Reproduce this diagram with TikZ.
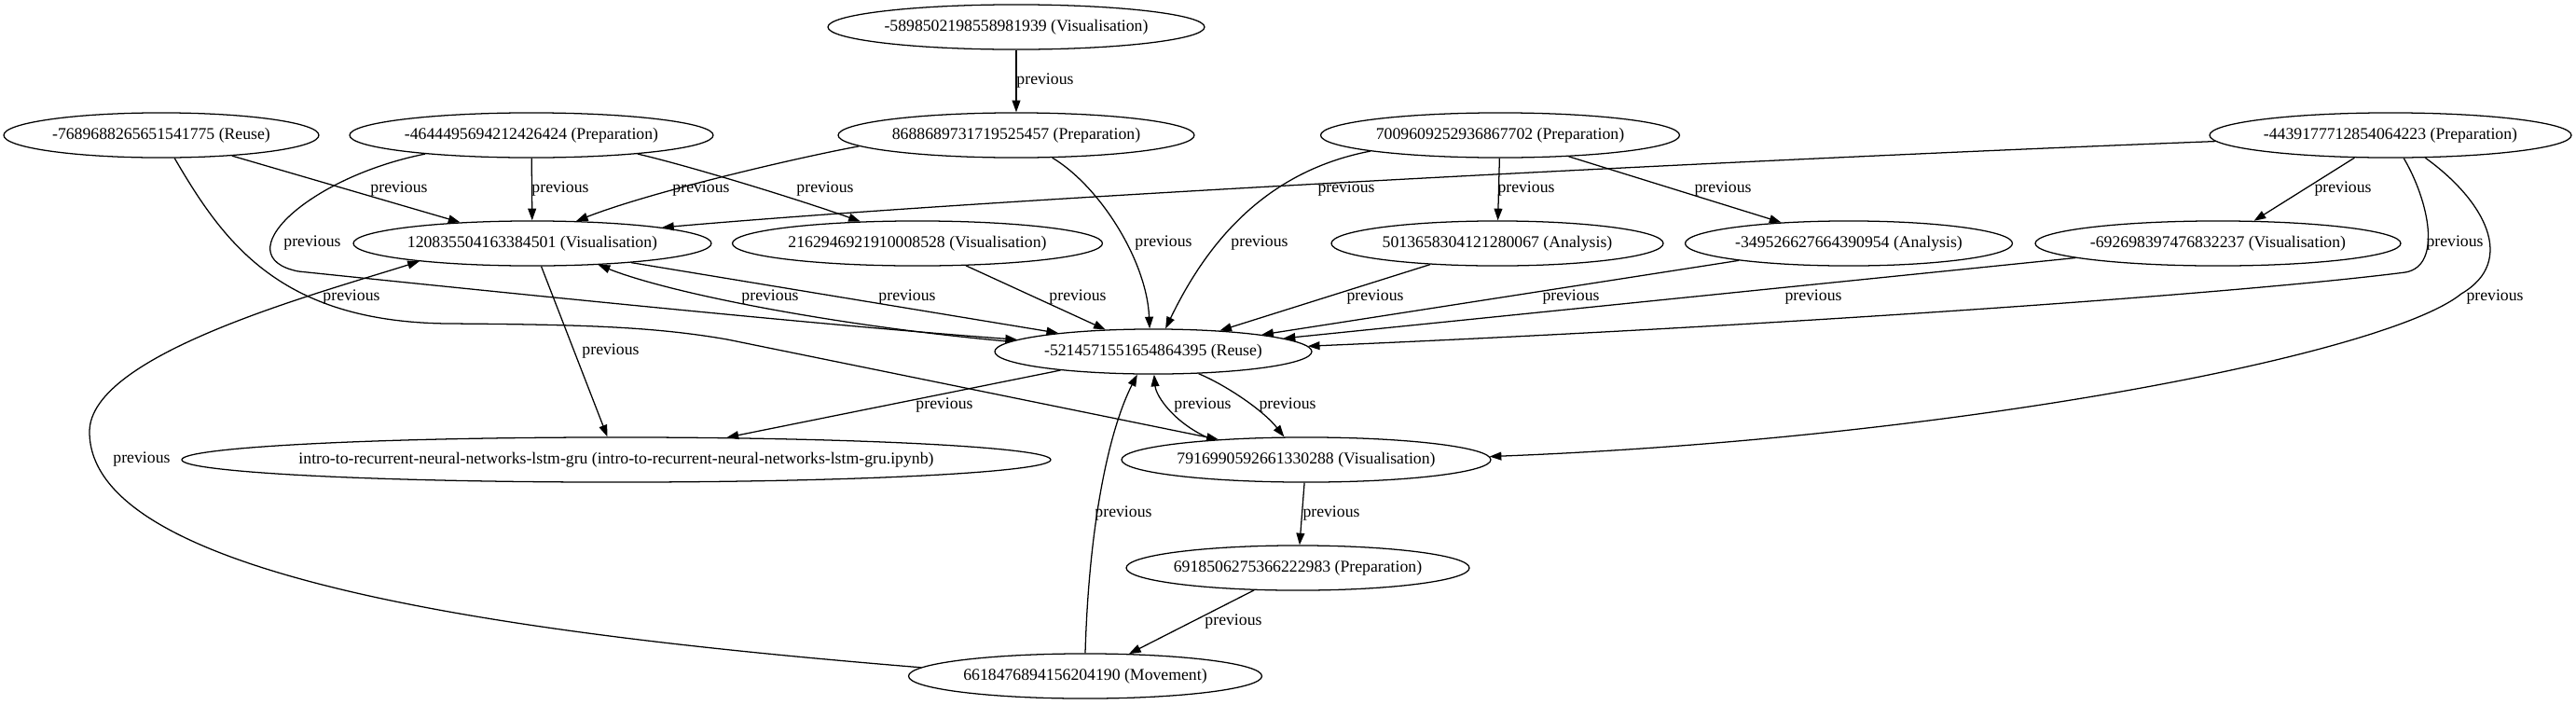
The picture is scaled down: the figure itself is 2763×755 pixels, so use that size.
\documentclass[tikz,border=0pt]{standalone}
\usepackage{fontspec}
\setmainfont{Liberation Serif}
\usetikzlibrary{arrows.meta,shapes.geometric}
\newcommand\zb[1]{\makebox[0pt]{#1}}
\begin{document}
\begin{tikzpicture}[x=0.79pt,y=-0.79pt,
  nd/.style={draw, ellipse, line width=1pt, inner sep=0pt, minimum height=38pt, minimum width=#1*0.79pt, font=\fontsize{14}{16}\selectfont},
  lb/.style={inner sep=0pt, font=\fontsize{14}{16}\selectfont},
  edge/.style={line width=1pt, -{Triangle[length=10pt,width=7pt]}}]
\useasboundingbox (0,0) rectangle (2763,755);
% nodes
\node[nd=404] (A) at (1090,29) {\zb{-5898502198558981939 (Visualisation)}};
\node[nd=338] (B) at (173,145) {\zb{-7689688265651541775 (Reuse)}};
\node[nd=390] (C) at (570,145) {\zb{-4644495694212426424 (Preparation)}};
\node[nd=382] (D) at (1090,145) {\zb{8688689731719525457 (Preparation)}};
\node[nd=385] (G) at (1609,145) {\zb{7009609252936867702 (Preparation)}};
\node[nd=388] (H) at (2564,145) {\zb{-4439177712854064223 (Preparation)}};
\node[nd=384] (E) at (571,261) {\zb{120835504163384501 (Visualisation)}};
\node[nd=397] (F) at (984,261) {\zb{2162946921910008528 (Visualisation)}};
\node[nd=356] (I) at (1606,261) {\zb{5013658304121280067 (Analysis)}};
\node[nd=351] (J) at (1983,261) {\zb{-349526627664390954 (Analysis)}};
\node[nd=392] (K) at (2379,261) {\zb{-692698397476832237 (Visualisation)}};
\node[nd=340] (L) at (1237,377) {\zb{-5214571551654864395 (Reuse)}};
\node[nd=932] (M) at (661,493) {\zb{intro-to-recurrent-neural-networks-lstm-gru (intro-to-recurrent-neural-networks-lstm-gru.ipynb)}};
\node[nd=396] (N) at (1401,493) {\zb{7916990592661330288 (Visualisation)}};
\node[nd=368] (O) at (1392,609) {\zb{6918506275366222983 (Preparation)}};
\node[nd=379] (P) at (1164,725) {\zb{6618476894156204190 (Movement)}};
% edges
\draw[edge] (A) -- (D);
\draw[edge] (B) -- (E);
\draw[edge] (C) -- (E);
\draw[edge] (D.184.5) .. controls (860,168) and (700,205) .. (E.27.6);
\draw[edge] (C.-10.7) .. controls (740,178) and (860,215) .. (F.159.1);
\draw[edge] (H.182.1) .. controls (1900,170) and (1100,210) .. (E.7.5);
\draw[edge] (G) -- (I);
\draw[edge] (G) -- (J);
\draw[edge] (H) -- (K);
\draw[edge] (C.190) .. controls (330,190) and (240,275) .. (320,291) .. controls (600,320) and (900,350) .. (L.175.6);
\draw[edge] (D.328) .. controls (1180,200) and (1230,280) .. (L.99);
\draw[edge] (G.187) .. controls (1350,185) and (1290,270) .. (L.62);
\draw[edge] (H.300) .. controls (2605,215) and (2620,285) .. (2580,292) .. controls (2400,315) and (1900,350) .. (L.2.05);
\draw[edge] (B.300) .. controls (240,260) and (300,345) .. (480,347) .. controls (620,348) and (700,350) .. (780,364) -- (N.167.2);
\draw[edge] (L.176.2) .. controls (900,350) and (720,315) .. (E.342);
\draw[edge] (E.349.4) -- (L.169.1);
\draw[edge] (F) -- (L);
\draw[edge] (I) -- (L);
\draw[edge] (J) -- (L);
\draw[edge] (K) -- (L);
\draw[edge] (H.327.7) .. controls (2665,215) and (2700,280) .. (2640,315) .. controls (2560,380) and (2100,470) .. (N.1.2);
\draw[edge] (E) -- (M);
\draw[edge] (L) -- (M);
\draw[edge] (N.168) .. controls (1260,455) and (1240,425) .. (L.272);
\draw[edge] (L.334.4) .. controls (1315,413) and (1355,440) .. (N.134);
\draw[edge] (N) -- (O);
\draw[edge] (P.90) .. controls (1168,560) and (1190,460) .. (L.235);
\draw[edge] (O) -- (P);
\draw[edge] (P.177.9) .. controls (550,680) and (96,620) .. (96,463) .. controls (96,380) and (340,315) .. (E.189.1);
% labels
\node[lb] (l1) at (1121,87) {previous};
\node[lb] (l2) at (428,203) {previous};
\node[lb] (l3) at (601,203) {previous};
\node[lb] (l4) at (752,203) {previous};
\node[lb] (l5) at (885,203) {previous};
\node[lb] (l6) at (1444,203) {previous};
\node[lb] (l7) at (1637,203) {previous};
\node[lb] (l8) at (1848,203) {previous};
\node[lb] (l9) at (2513,203) {previous};
\node[lb] (l10) at (335,261) {previous};
\node[lb] (l11) at (1248,261) {previous};
\node[lb] (l12) at (1351,261) {previous};
\node[lb] (l13) at (2633,261) {previous};
\node[lb] (l14) at (377,319) {previous};
\node[lb] (l15) at (826,319) {previous};
\node[lb] (l16) at (973,319) {previous};
\node[lb] (l17) at (1156,319) {previous};
\node[lb] (l18) at (1475,319) {previous};
\node[lb] (l19) at (1685,319) {previous};
\node[lb] (l20) at (1945,319) {previous};
\node[lb] (l21) at (2676,319) {previous};
\node[lb] (l22) at (655,377) {previous};
\node[lb] (l23) at (1013,435) {previous};
\node[lb] (l24) at (1290,435) {previous};
\node[lb] (l25) at (1381,435) {previous};
\node[lb] (l26) at (1428,551) {previous};
\node[lb] (l27) at (1205,551) {previous};
\node[lb] (l28) at (1323,667) {previous};
\node[lb] (l29) at (152,493) {previous};
\end{tikzpicture}
\end{document}
